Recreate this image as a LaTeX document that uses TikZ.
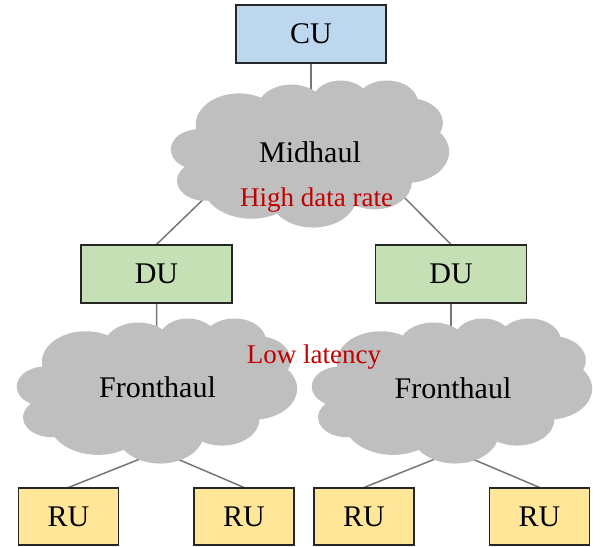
\documentclass[tikz,border=0pt]{standalone}
\usepackage{fontspec}
\setmainfont{Liberation Serif}
\usetikzlibrary{backgrounds}
\definecolor{cufill}{RGB}{189,215,238}
\definecolor{dufill}{RGB}{197,224,180}
\definecolor{rufill}{RGB}{255,230,153}
\definecolor{cloudgray}{RGB}{191,191,191}
\definecolor{linkgray}{RGB}{118,118,118}
\definecolor{notered}{RGB}{192,0,0}
% Elliptical arc given by radii and "visual" start/sweep angles,
% converted to the parametric angles that TikZ expects.
\tikzset{
  declare function={oopar(\a,\rx,\ry)=atan2(\rx*sin(\a),\ry*cos(\a))
      +360*round((\a-atan2(\rx*sin(\a),\ry*cos(\a)))/360);},
  ooarc/.style n args={4}{x radius=#1, y radius=#2,
      start angle={oopar(#3,#1,#2)}, end angle={oopar(#3+#4,#1,#2)}}
}
% Cloud outline in a 432 x 432 frame, placed at (#1,#2) with size #3 x #4
\newcommand{\haulcloud}[4]{%
  \begin{scope}[shift={(#1,#2)}, xscale=#3/432, yscale=#4/432]
    \fill[cloudgray] (39.00,143.70)
      arc[ooarc={67.53}{91.90}{-190.48748}{123.78053}]
      arc[ooarc={53.33}{72.67}{-144.10238}{89.94523}]
      arc[ooarc={43.65}{59.45}{-145.80792}{99.72302}]
      arc[ooarc={48.57}{65.95}{-130.98607}{117.24173}]
      arc[ooarc={53.33}{72.73}{-78.70888}{109.02692}]
      arc[ooarc={67.75}{92.20}{-46.26725}{130.269}]
      arc[ooarc={57.85}{78.67}{0.62502}{114.03333}]
      arc[ooarc={67.52}{92.15}{22.4516}{115.17255}]
      arc[ooarc={77.20}{105.43}{66.24263}{75.71102}]
      arc[ooarc={43.60}{59.18}{-274.94208}{146.73557}]
      arc[ooarc={43.45}{59.45}{-246.8285}{152.51885}]
      -- cycle;
  \end{scope}}
\begin{document}
\begin{tikzpicture}[x=1pt,y=-1pt,
  unitbox/.style={draw=black!85, line width=1.1pt, inner sep=0pt,
    font=\fontsize{30}{30}\selectfont},
  cubox/.style={unitbox, fill=cufill, minimum width=150pt, minimum height=58pt},
  dubox/.style={unitbox, fill=dufill, minimum width=151pt, minimum height=58pt},
  rubox/.style={unitbox, fill=rufill, minimum width=100pt, minimum height=57pt},
  haullabel/.style={anchor=base, inner sep=0pt, font=\fontsize{30}{30}\selectfont},
  note/.style={anchor=base, inner sep=0pt, text=notered, font=\fontsize{27}{27}\selectfont},
  link/.style={draw=linkgray, line width=1.5pt}]
\useasboundingbox (0,0) rectangle (593,546);

% units
\node[cubox] (cu) at (311,34) {CU};
\node[dubox] (du1) at (156.5,274) {DU};
\node[dubox] (du2) at (451,274) {DU};
\node[rubox] (ru1) at (68.5,516.5) {RU};
\node[rubox] (ru2) at (244,516.5) {RU};
\node[rubox] (ru3) at (364,516.5) {RU};
\node[rubox] (ru4) at (539.5,516.5) {RU};

% attachment points inside the clouds
\coordinate (m0) at (311,140);
\coordinate (m1) at (215,188);
\coordinate (m2) at (395,188);
\coordinate (f1u) at (157,380);
\coordinate (f2u) at (451,380);
\coordinate (f1a) at (150,455);
\coordinate (f1b) at (168,455);
\coordinate (f2a) at (445,455);
\coordinate (f2b) at (463,455);

\begin{scope}[on background layer]
  \draw[link] (cu.south) -- (m0);
  \draw[link] (m1) -- (du1.north);
  \draw[link] (m2) -- (du2.north);
  \draw[link] (du1.south) -- (f1u);
  \draw[link] (du2.south) -- (f2u);
  \draw[link] (f1a) -- (ru1.north);
  \draw[link] (f1b) -- (ru2.north);
  \draw[link] (f2a) -- (ru3.north);
  \draw[link] (f2b) -- (ru4.north);
\end{scope}

% transport clouds
\haulcloud{171}{80}{278}{147}
\haulcloud{17}{318}{280}{145}
\haulcloud{312}{318}{280}{145}

% labels
\node[haullabel] (midtext) at (310,162) {Midhaul};
\node[haullabel] (fh1text) at (157.5,397.5) {Fronthaul};
\node[haullabel] (fh2text) at (453,398) {Fronthaul};
\node[note] (rate) at (316.5,206) {High data rate};
\node[note] (lat) at (314,363) {Low latency};
\end{tikzpicture}
\end{document}
